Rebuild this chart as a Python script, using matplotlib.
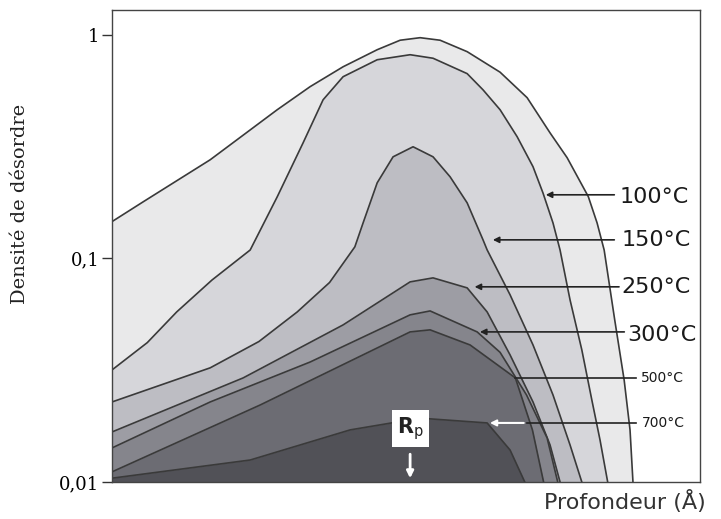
import numpy as np
import matplotlib
matplotlib.use("Agg")
import matplotlib.pyplot as plt

# depth (arbitrary units, 0..1000 across the frame) and disorder density
c0_depth = [0, 53, 167, 281, 337, 393, 451, 490, 524, 558, 604, 660, 706, 745, 774, 810, 825, 837, 855, 871, 881, 886]
c0_dens = [0.146, 0.179, 0.276, 0.462, 0.586, 0.719, 0.857, 0.945, 0.970, 0.945, 0.840, 0.680, 0.523, 0.364,
           0.282, 0.189, 0.144, 0.109, 0.053, 0.0286, 0.0171, 0.01]

c1_depth = [0, 60, 110, 170, 235, 281, 325, 359, 393, 451, 507, 546, 604, 631, 660, 689, 716, 733, 750, 762, 779,
            799, 816, 830, 843]
c1_dens = [0.0317, 0.042, 0.0576, 0.080, 0.109, 0.1885, 0.3286, 0.5118, 0.649, 0.773, 0.814, 0.785, 0.670, 0.567,
           0.462, 0.350, 0.257, 0.196, 0.144, 0.109, 0.0652, 0.039, 0.0233, 0.0154, 0.01]

c2_depth = [0, 167, 250, 315, 370, 413, 427, 451, 478, 512, 546, 575, 604, 631, 638, 677, 716, 750, 779, 799]
c2_dens = [0.0228, 0.0324, 0.0425, 0.0576, 0.078, 0.1126, 0.144, 0.2177, 0.2845, 0.3155, 0.2845, 0.2316, 0.1771,
           0.121, 0.1091, 0.0687, 0.041, 0.0245, 0.01464, 0.01]

c3_depth = [0, 223, 393, 507, 546, 604, 638, 677, 716, 745, 762]
c3_dens = [0.01674, 0.0292, 0.0504, 0.0785, 0.0818, 0.0738, 0.0576, 0.037, 0.0228, 0.01464, 0.01]

c4_depth = [0, 167, 337, 507, 541, 621, 660, 705, 740, 758]
c4_dens = [0.0142, 0.0228, 0.0344, 0.0559, 0.0582, 0.0469, 0.038, 0.0245, 0.01573, 0.01]

c5_depth = [0, 252, 507, 541, 609, 686, 715, 734]
c5_dens = [0.0111, 0.0221, 0.0469, 0.0479, 0.041, 0.0292, 0.0171, 0.01]

c6_depth = [0, 235, 405, 524, 638, 677, 702]
c6_dens = [0.0104, 0.01254, 0.0171, 0.0193, 0.01837, 0.0139, 0.01]

curves = [(c0_depth, c0_dens), (c1_depth, c1_dens), (c2_depth, c2_dens), (c3_depth, c3_dens),
          (c4_depth, c4_dens), (c5_depth, c5_dens), (c6_depth, c6_dens)]
shades = ["#e9e9ea", "#d6d6da", "#bdbdc3", "#9d9da4", "#85858c", "#6c6c73", "#515157"]

labels = ["100°C", "150°C", "250°C", "300°C", "500°C", "700°C"]
# arrow tip on the curve (depth, density)
tip_depth = [733, 643, 612, 621, 686, 638]
tip_dens = [0.1924, 0.121, 0.0746, 0.0469, 0.0292, 0.01837]
rp_depth = 507

fig = plt.figure(figsize=(7.21, 5.19), dpi=100)
ax = fig.add_axes([112 / 721, 1 - 482 / 519, 588 / 721, 472 / 519])
ax.set_yscale("log")
ax.set_xlim(0, 1000)
ax.set_ylim(0.01, 1.29)

for i, (d, v) in enumerate(curves):
    ax.fill_between(d, v, 1e-3, color=shades[i], lw=0, zorder=1 + i)
    ax.plot(d, v, color="#3a3a3a", lw=1.2, zorder=1 + i)

# labels with arrows on the right
label_x = [864, 867, 867, 877, 899, 901]   # text left edge
label_y = [0.188, 0.121, 0.0746, 0.0455, 0.0292, 0.01837]
start_x = [859, 859, 867, 876, 891, 891]
big = [True, True, True, True, False, False]
for i, lab in enumerate(labels):
    ax.text(label_x[i], label_y[i], lab, ha="left", va="center", family="DejaVu Sans",
            fontsize=16 if big[i] else 10, color="#1a1a1a", zorder=20, clip_on=False)
    if i == 5:
        ax.plot([start_x[i], 705], [tip_dens[i]] * 2, color="#222222", lw=1.2, zorder=20)
        ax.annotate("", xy=(tip_depth[i], tip_dens[i]), xytext=(705, tip_dens[i]),
                    arrowprops=dict(arrowstyle="-|>", color="white", lw=1.5, mutation_scale=9), zorder=21)
    elif i == 4:
        ax.plot([tip_depth[i], start_x[i]], [tip_dens[i]] * 2, color="#222222", lw=1.2, zorder=20)
    else:
        ax.annotate("", xy=(tip_depth[i], tip_dens[i]), xytext=(start_x[i], tip_dens[i]),
                    arrowprops=dict(arrowstyle="-|>", color="#222222", lw=1.2, mutation_scale=9), zorder=20)

# Rp marker
ax.text(rp_depth, 0.0174, r"$\mathbf{R}_{\mathrm{p}}$", ha="center", va="center", fontsize=15,
        color="#222222", zorder=25,
        bbox=dict(boxstyle="square,pad=0.25", fc="white", ec="none"))
ax.annotate("", xy=(rp_depth, 0.0101), xytext=(rp_depth, 0.0137),
            arrowprops=dict(arrowstyle="-|>", color="white", lw=2, mutation_scale=10), zorder=25)

ax.set_yticks([0.01, 0.1, 1])
ax.set_yticklabels(["0,01", "0,1", "1"], family="DejaVu Serif", fontsize=13)
ax.yaxis.set_minor_locator(matplotlib.ticker.NullLocator())
ax.tick_params(axis="y", direction="out", length=7, width=1, color="#333333", pad=2)
ax.set_xticks([])
for s in ax.spines.values():
    s.set_color("#444444")
    s.set_linewidth(1)
    s.set_zorder(30)

fig.text(20 / 721, 1 - 204 / 519, "Densité de désordre", rotation=90, ha="center", va="center",
         family="DejaVu Serif", fontsize=14, color="#222222")
fig.text(625 / 721, 1 - 501 / 519, "Profondeur (Å)", ha="center", va="center",
         family="DejaVu Sans", fontsize=16, color="#333333")

fig.savefig("out.png", dpi=100)
